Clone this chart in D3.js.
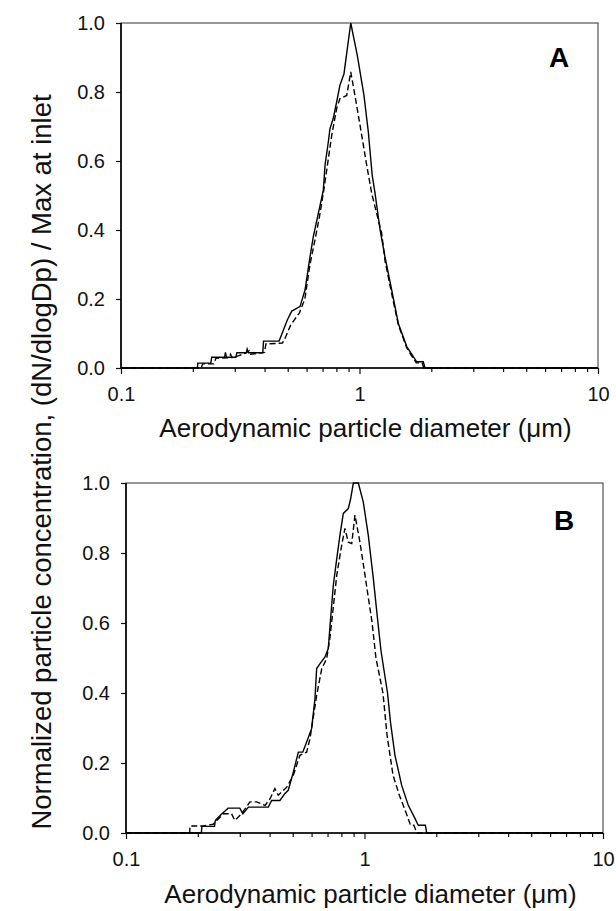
<!DOCTYPE html>
<html lang="en">
<head>
<meta charset="UTF-8">
<title>Normalized particle concentration</title>
<script src="https://d3js.org/d3.v7.min.js"></script>
<style>
  body { margin: 0; background: #fff; font-family: "Liberation Sans", Arial, sans-serif; }
  .tick text { font-size: 20px; fill: #111; font-family: "Liberation Sans", Arial, sans-serif; }
  .tick line { stroke: #111; stroke-width: 1.2; }
  .axis-title { font-size: 26px; fill: #111; }
  .y-title { font-size: 27.5px; fill: #111; }
  .panel-letter { font-size: 28px; font-weight: bold; fill: #000; }
</style>
</head>
<body>
<svg width="616" height="911"></svg>
<script>
// tick values
const xTicks = [0.1, 1, 10];
const xMinorTicks = [0.2, 0.3, 0.4, 0.5, 0.6, 0.7, 0.8, 0.9, 2, 3, 4, 5, 6, 7, 8, 9];
const yTicks = [0, 0.2, 0.4, 0.6, 0.8, 1.0];

// [diameter (um), normalized concentration]
const aSolid = [[0.1,0],[0.209,0],[0.21,0.014],[0.238,0.014],[0.24,0.031],[0.272,0.031],[0.274,0.045],[0.277,0.031],
  [0.303,0.031],[0.306,0.044],[0.335,0.044],[0.338,0.055],[0.342,0.044],[0.393,0.044],[0.396,0.078],[0.46,0.078],
  [0.47,0.094],[0.498,0.139],[0.52,0.165],[0.545,0.173],[0.563,0.178],[0.591,0.226],[0.62,0.322],[0.64,0.38],
  [0.672,0.448],[0.705,0.515],[0.717,0.588],[0.74,0.655],[0.752,0.694],[0.776,0.723],[0.802,0.771],[0.828,0.82],
  [0.861,0.853],[0.919,1.0],[0.979,0.906],[1.044,0.79],[1.089,0.684],[1.13,0.56],[1.16,0.51],[1.22,0.4],
  [1.279,0.322],[1.365,0.226],[1.455,0.129],[1.578,0.062],[1.681,0.033],[1.737,0.018],[1.851,0.018],[1.882,0],[10,0]];

const aDashed = [[0.1,0],[0.217,0],[0.22,0.012],[0.245,0.012],[0.25,0.028],[0.283,0.03],[0.288,0.04],[0.292,0.03],
  [0.31,0.035],[0.33,0.042],[0.345,0.05],[0.35,0.04],[0.40,0.045],[0.405,0.07],[0.475,0.072],[0.49,0.09],
  [0.515,0.125],[0.56,0.16],[0.59,0.2],[0.62,0.3],[0.65,0.37],[0.68,0.44],[0.71,0.52],[0.765,0.675],[0.802,0.752],
  [0.828,0.781],[0.884,0.79],[0.919,0.858],[0.957,0.79],[1.005,0.704],[1.072,0.588],[1.125,0.506],[1.239,0.39],
  [1.28,0.31],[1.365,0.215],[1.455,0.125],[1.578,0.058],[1.68,0.028],[1.73,0.015],[1.83,0.015],[1.86,0],[10,0]];

const bSolid = [[0.1,0],[0.207,0],[0.208,0.019],[0.235,0.019],[0.237,0.036],[0.248,0.05],[0.268,0.071],[0.3,0.071],
  [0.309,0.055],[0.326,0.074],[0.395,0.074],[0.408,0.093],[0.442,0.093],[0.464,0.113],[0.479,0.122],[0.503,0.174],
  [0.528,0.231],[0.551,0.231],[0.572,0.26],[0.60,0.298],[0.62,0.384],[0.63,0.47],[0.651,0.484],[0.683,0.503],
  [0.705,0.527],[0.717,0.593],[0.74,0.708],[0.765,0.784],[0.789,0.851],[0.815,0.913],[0.855,0.927],[0.875,0.955],
  [0.898,1.0],[0.942,1.0],[0.988,0.946],[1.037,0.851],[1.089,0.727],[1.139,0.6],[1.173,0.52],[1.249,0.4],
  [1.285,0.317],[1.342,0.222],[1.432,0.136],[1.526,0.079],[1.602,0.051],[1.681,0.022],[1.80,0.022],[1.823,0],[10,0]];

const bDashed = [[0.1,0],[0.185,0],[0.1855,0.02],[0.21,0.02],[0.232,0.025],[0.256,0.055],[0.277,0.055],[0.286,0.036],
  [0.305,0.055],[0.331,0.089],[0.353,0.089],[0.383,0.079],[0.402,0.098],[0.421,0.127],[0.435,0.108],[0.472,0.131],
  [0.503,0.165],[0.536,0.222],[0.572,0.231],[0.591,0.27],[0.63,0.393],[0.662,0.47],[0.694,0.498],[0.717,0.56],
  [0.765,0.736],[0.802,0.822],[0.828,0.87],[0.855,0.831],[0.884,0.827],[0.912,0.908],[0.957,0.831],[1.005,0.736],
  [1.075,0.603],[1.117,0.5],[1.195,0.4],[1.243,0.28],[1.317,0.165],[1.40,0.108],[1.49,0.06],[1.56,0.022],
  [1.61,0.022],[1.66,0],[10,0]];

const panels = [
  { letter: "A", solid: aSolid, dashed: aDashed, left: 121, right: 598, top: 23, bottom: 368, titleY: 437, letterX: 549, letterY: 67 },
  { letter: "B", solid: bSolid, dashed: bDashed, left: 126, right: 603, top: 483, bottom: 833, titleY: 903, letterX: 554, letterY: 530 }
];

const svg = d3.select("svg");

panels.forEach(p => {
  const x = d3.scaleLog().domain([0.1, 10]).range([p.left, p.right]);
  const y = d3.scaleLinear().domain([0, 1]).range([p.bottom, p.top]);
  const g = svg.append("g");

  // frame
  g.append("rect")
    .attr("x", p.left).attr("y", p.top)
    .attr("width", p.right - p.left).attr("height", p.bottom - p.top)
    .attr("fill", "none").attr("stroke", "#333").attr("stroke-width", 1);

  // minor x ticks
  g.append("g")
    .attr("transform", `translate(0,${p.bottom})`)
    .call(d3.axisBottom(x).tickValues(xMinorTicks).tickSize(4).tickFormat(""))
    .call(a => a.select(".domain").remove());

  g.append("g")
    .attr("transform", `translate(0,${p.bottom})`)
    .call(d3.axisBottom(x).tickValues(xTicks).tickSize(6).tickPadding(13).tickFormat(d3.format("~g")))
    .call(a => a.select(".domain").remove());

  g.append("g")
    .attr("transform", `translate(${p.left},0)`)
    .call(d3.axisLeft(y).tickValues(yTicks).tickSize(5).tickPadding(11).tickFormat(d3.format(".1f")))
    .call(a => a.select(".domain").remove());

  // heavier left / bottom axis lines
  g.append("line").attr("x1", p.left).attr("x2", p.left).attr("y1", p.top).attr("y2", p.bottom)
    .attr("stroke", "#000").attr("stroke-width", 1.6);
  g.append("line").attr("x1", p.left).attr("x2", p.right).attr("y1", p.bottom).attr("y2", p.bottom)
    .attr("stroke", "#000").attr("stroke-width", 1.6);

  const line = d3.line().x(d => x(d[0])).y(d => y(d[1]));

  g.append("path").datum(p.dashed)
    .attr("d", line).attr("fill", "none").attr("stroke", "#000")
    .attr("stroke-width", 1.4).attr("stroke-dasharray", "6,3");

  g.append("path").datum(p.solid)
    .attr("d", line).attr("fill", "none").attr("stroke", "#000").attr("stroke-width", 1.4);

  g.append("text").attr("class", "panel-letter")
    .attr("x", p.letterX).attr("y", p.letterY).text(p.letter);

  g.append("text").attr("class", "axis-title")
    .attr("x", (p.left + p.right) / 2 + 6).attr("y", p.titleY)
    .attr("text-anchor", "middle")
    .text("Aerodynamic particle diameter (\u03bcm)");
});

svg.append("text").attr("class", "y-title")
  .attr("transform", "translate(51,462) rotate(-90)")
  .attr("text-anchor", "middle")
  .text("Normalized particle concentration, (dN/dlogDp) / Max at inlet");
</script>
</body>
</html>
